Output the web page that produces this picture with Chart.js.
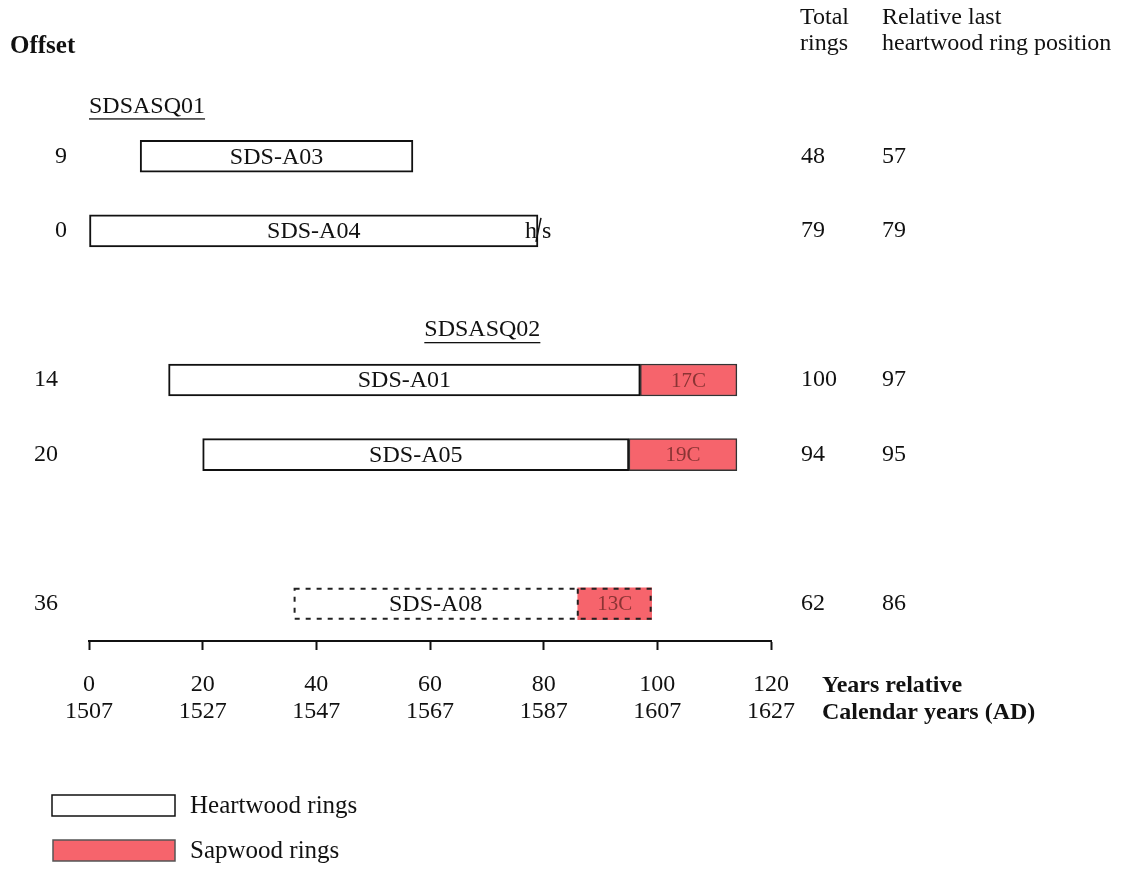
<!DOCTYPE html>
<html>
<head>
<meta charset="utf-8">
<script src="https://cdn.jsdelivr.net/npm/chart.js@4/dist/chart.umd.min.js"></script>
<style>
  html, body { margin: 0; padding: 0; background: #fff; }
  #wrap { width: 1147px; height: 871px; }
</style>
</head>
<body>
<div id="wrap"><canvas id="chart" width="1147" height="871"></canvas></div>
<script>
// rows of the diagram (blank rows are spacers)
const samples = ['SDS-A03', 'SDS-A04', '', 'SDS-A01', 'SDS-A05', '', 'SDS-A08'];
const offsets = [9, 0, null, 14, 20, null, 36];
const heartEnd = [57, 79, null, 97, 95, null, 86];
const sapEnd = [null, null, null, 114, 114, null, 99];
const sapLabels = ['', '', '', '17C', '19C', '', '13C'];
const totalRings = [48, 79, null, 100, 94, null, 62];
const lastHeartwood = [57, 79, null, 97, 95, null, 86];
const uncertain = [false, false, false, false, false, false, true];
const groupNames = ['SDSASQ01', 'SDSASQ02'];
const groupRows = [0, 3];
const groupStart = [0, 59];
const xTicks = [0, 20, 40, 60, 80, 100, 120];
const firstYear = 1507;

const serif = '"Liberation Serif", "Times New Roman", serif';
const sapColor = '#f6646c';

const heartData = offsets.map((o, i) => (o === null ? null : [o, heartEnd[i]]));
const sapData = sapEnd.map((e, i) => (e === null ? null : [heartEnd[i], e]));

const overlay = {
    id: 'overlay',
    afterDatasetsDraw(chart) {
        const ctx = chart.ctx;
        const heartMeta = chart.getDatasetMeta(0);
        const sapMeta = chart.getDatasetMeta(1);
        ctx.save();
        ctx.textBaseline = 'middle';

        samples.forEach((name, i) => {
            const hb = heartMeta.data[i];
            if (!hb || heartData[i] === null) return;
            const p = hb.getProps(['x', 'y', 'base', 'height'], true);
            const left = Math.min(p.x, p.base);
            const right = Math.max(p.x, p.base);

            // dashed outline for the uncertain sample
            if (uncertain[i]) {
                let r = right;
                if (sapData[i]) {
                    const sp = sapMeta.data[i].getProps(['x', 'base'], true);
                    r = Math.max(sp.x, sp.base);
                }
                ctx.strokeStyle = '#222';
                ctx.lineWidth = 2;
                ctx.setLineDash([5, 6]);
                ctx.strokeRect(left + 1, p.y - p.height / 2 + 1, r - left - 2, p.height - 2);
                ctx.beginPath();
                ctx.moveTo(right, p.y - p.height / 2 + 1);
                ctx.lineTo(right, p.y + p.height / 2 - 1);
                ctx.stroke();
                ctx.setLineDash([]);
            }

            ctx.fillStyle = '#111';
            ctx.font = '24px ' + serif;
            ctx.textAlign = 'center';
            ctx.fillText(name, (left + right) / 2, p.y + 1);

            if (sapData[i]) {
                const sp = sapMeta.data[i].getProps(['x', 'base'], true);
                ctx.fillStyle = '#8a3434';
                ctx.font = '21px ' + serif;
                ctx.fillText(sapLabels[i], (sp.x + sp.base) / 2, p.y + 1);
            }
        });

        // heartwood/sapwood boundary marker on SDS-A04
        const a04 = heartMeta.data[1].getProps(['x', 'y', 'height'], true);
        ctx.fillStyle = '#111';
        ctx.font = '24px ' + serif;
        ctx.textAlign = 'right';
        ctx.fillText('h', a04.x - 1, a04.y + 1);
        ctx.textAlign = 'left';
        ctx.fillText('s', a04.x + 4, a04.y + 1);
        ctx.strokeStyle = '#111';
        ctx.lineWidth = 1.5;
        ctx.beginPath();
        ctx.moveTo(a04.x - 2, a04.y + 11);
        ctx.lineTo(a04.x + 3, a04.y - 13);
        ctx.stroke();

        ctx.restore();
    },
    afterDraw(chart) {
        const ctx = chart.ctx;
        const x = chart.scales.x;
        const y = chart.scales.y;
        ctx.save();
        ctx.fillStyle = '#111';
        ctx.textBaseline = 'middle';

        // headers
        ctx.font = 'bold 25px ' + serif;
        ctx.textAlign = 'left';
        ctx.fillText('Offset', 10, 47);
        ctx.font = '24px ' + serif;
        ctx.fillText('Total', 800, 18);
        ctx.fillText('rings', 800, 44);
        ctx.fillText('Relative last', 882, 18);
        ctx.fillText('heartwood ring position', 882, 44);

        // per-row columns
        ctx.font = '24px ' + serif;
        samples.forEach((name, i) => {
            if (offsets[i] === null) return;
            const cy = y.getPixelForValue(i);
            ctx.textAlign = 'left';
            ctx.fillText(String(offsets[i]), offsets[i] < 10 ? 55 : 34, cy);
            ctx.fillText(String(totalRings[i]), 801, cy);
            ctx.fillText(String(lastHeartwood[i]), 882, cy);
        });

        // group labels (underlined)
        groupNames.forEach((g, k) => {
            const gx = x.getPixelForValue(groupStart[k]);
            const gy = y.getPixelForValue(groupRows[k]) - 50;
            ctx.font = '24px ' + serif;
            ctx.textAlign = 'left';
            ctx.fillText(g, gx, gy);
            const w = ctx.measureText(g).width;
            ctx.fillRect(gx, gy + 12, w, 1.3);
        });

        // axis names
        ctx.font = 'bold 24px ' + serif;
        ctx.fillText('Years relative', 822, 686);
        ctx.fillText('Calendar years (AD)', 822, 713);

        // legend
        ctx.lineWidth = 1.5;
        ctx.strokeStyle = '#111';
        ctx.fillStyle = '#fff';
        ctx.fillRect(52, 795, 123, 21);
        ctx.strokeRect(52, 795, 123, 21);
        ctx.fillStyle = sapColor;
        ctx.fillRect(53, 840, 122, 21);
        ctx.strokeStyle = '#555';
        ctx.strokeRect(53, 840, 122, 21);
        ctx.fillStyle = '#111';
        ctx.font = '25px ' + serif;
        ctx.fillText('Heartwood rings', 190, 806);
        ctx.fillText('Sapwood rings', 190, 851);

        ctx.restore();
    }
};

new Chart(document.getElementById('chart'), {
    type: 'bar',
    data: {
        labels: samples.map((s, i) => s || ' ' + i),
        datasets: [
            {
                label: 'Heartwood rings',
                data: heartData,
                backgroundColor: '#fff',
                borderColor: '#111',
                borderWidth: (c) => (uncertain[c.dataIndex] ? 0 : 2),
                borderSkipped: false,
                barThickness: 32,
                grouped: false,
                order: 2
            },
            {
                label: 'Sapwood rings',
                data: sapData,
                backgroundColor: sapColor,
                borderColor: '#333',
                borderWidth: (c) => (uncertain[c.dataIndex] ? 0 : 1.5),
                borderSkipped: false,
                barThickness: 32,
                grouped: false,
                order: 1
            }
        ]
    },
    options: {
        responsive: false,
        animation: false,
        indexAxis: 'y',
        layout: { padding: { left: 89, right: 376, top: 119, bottom: 0 } },
        plugins: {
            legend: { display: false },
            tooltip: { enabled: false }
        },
        scales: {
            y: {
                type: 'category',
                display: false,
                offset: true
            },
            x: {
                type: 'linear',
                min: 0,
                max: 120,
                afterBuildTicks: (scale) => {
                    scale.ticks = xTicks.map(v => ({ value: v }));
                },
                afterFit: (scale) => {
                    scale.height = 230;
                },
                grid: {
                    drawOnChartArea: false,
                    drawTicks: true,
                    tickLength: 9,
                    tickWidth: 2,
                    color: '#111'
                },
                border: { display: true, color: '#111', width: 2 },
                ticks: {
                    color: '#111',
                    padding: 21,
                    maxRotation: 0,
                    autoSkip: false,
                    font: { family: serif, size: 24, lineHeight: 1.125 },
                    callback: (v) => [String(v), String(firstYear + v)]
                }
            }
        }
    },
    plugins: [overlay]
});
</script>
</body>
</html>
